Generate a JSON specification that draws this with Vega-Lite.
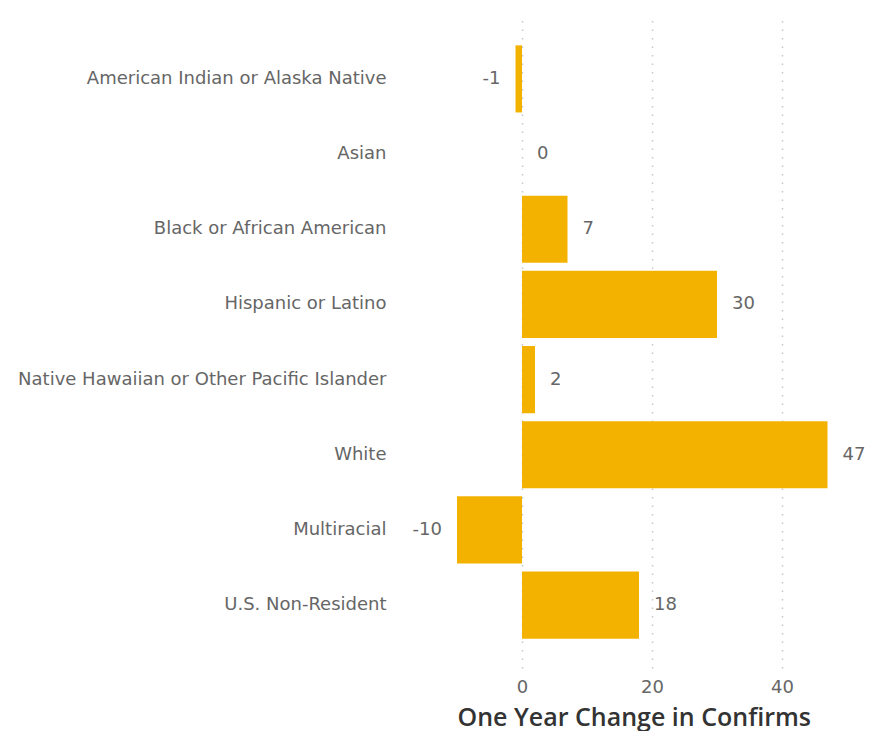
{
  "$schema": "https://vega.github.io/schema/vega-lite/v6.json",
  "autosize": "none",
  "width": 390,
  "height": 652,
  "padding": {"left": 457, "top": 16, "right": 22, "bottom": 63},
  "background": "white",
  "config": {"view": {"stroke": null}, "font": "DejaVu Sans"},
  "data": {"values": [
    {"group": "American Indian or Alaska Native", "change": -1},
    {"group": "Asian", "change": 0},
    {"group": "Black or African American", "change": 7},
    {"group": "Hispanic or Latino", "change": 30},
    {"group": "Native Hawaiian or Other Pacific Islander", "change": 2},
    {"group": "White", "change": 47},
    {"group": "Multiracial", "change": -10},
    {"group": "U.S. Non-Resident", "change": 18}
  ]},
  "encoding": {
    "y": {"field": "group", "type": "nominal", "sort": null,
      "scale": {"paddingInner": 0.107, "paddingOuter": 0.39},
      "axis": {"title": null, "domain": false, "ticks": false, "labelPadding": 71,
        "labelFontSize": 18, "labelColor": "#666666", "labelFont": "DejaVu Sans", "labelLimit": 500}},
    "x": {"field": "change", "type": "quantitative",
      "scale": {"domain": [-10, 50], "nice": false, "zero": false},
      "axis": {"values": [0, 20, 40], "title": "One Year Change in Confirms",
        "domain": false, "ticks": false, "grid": true, "gridColor": "#c8c8c8", "gridDash": [1.5, 7], "gridWidth": 1.5,
        "labelFontSize": 18, "labelColor": "#666666", "labelPadding": 10, "labelFont": "DejaVu Sans",
        "titleFontSize": 25, "titleFontWeight": 600, "titleColor": "#333333", "titlePadding": 9,
        "titleAlign": "left", "titleX": 0, "titleFont": "Open Sans"}}
  },
  "layer": [
    {"mark": {"type": "bar", "color": "#F4B200"}},
    {"transform": [{"filter": "datum.change >= 0"}],
     "mark": {"type": "text", "align": "left", "dx": 15, "fontSize": 18, "color": "#666666", "font": "DejaVu Sans"},
     "encoding": {"text": {"field": "change", "type": "nominal"}}},
    {"transform": [{"filter": "datum.change < 0"}],
     "mark": {"type": "text", "align": "right", "dx": -15, "fontSize": 18, "color": "#666666", "font": "DejaVu Sans"},
     "encoding": {"text": {"field": "change", "type": "nominal"}}}
  ]
}
